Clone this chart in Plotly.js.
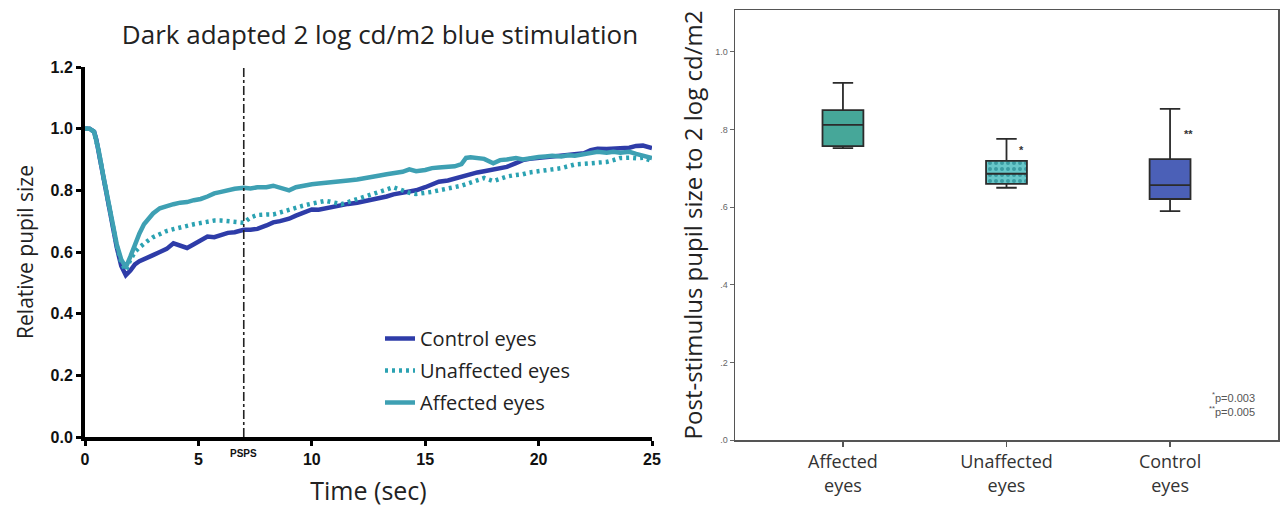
<!DOCTYPE html>
<html>
<head>
<meta charset="utf-8">
<script src="https://cdn.plot.ly/plotly-3.0.1.min.js"></script>
<style>html,body{margin:0;padding:0;background:#fff;}#chart{width:1283px;height:507px;}</style>
</head>
<body>
<div id="chart"></div>
<script>
// ---------- Left panel: pupil response time course ----------
const timeSec = [
  0, 0.2, 0.4, 0.5, 0.6, 0.8, 1.0, 1.2, 1.4, 1.6,
  1.8, 2.0, 2.2, 2.4, 2.6, 2.8, 3.0, 3.3, 3.6, 3.9,
  4.2, 4.5, 4.8, 5.1, 5.4, 5.7, 6.0, 6.3, 6.6, 7.0,
  7.3, 7.6, 8.0, 8.3, 8.6, 9.0, 9.3, 9.6, 10.0, 10.3,
  10.6, 11.0, 11.3, 11.6, 12.0, 12.3, 12.6, 13.0, 13.3, 13.6,
  14.0, 14.3, 14.6, 15.0, 15.3, 15.6, 16.0, 16.3, 16.6, 16.8,
  17.0, 17.3, 17.6, 18.0, 18.3, 18.6, 19.0, 19.3, 19.6, 20.0,
  20.3, 20.6, 21.0, 21.3, 21.6, 22.0, 22.3, 22.6, 23.0, 23.3,
  23.6, 24.0, 24.3, 24.6, 25.0
];
const controlEyes = [
  1.00, 1.00, 0.99, 0.965, 0.925, 0.845, 0.765, 0.685, 0.615, 0.555,
  0.525, 0.54, 0.56, 0.57, 0.578, 0.586, 0.59, 0.60, 0.61, 0.628,
  0.622, 0.613, 0.625, 0.638, 0.65, 0.648, 0.655, 0.662, 0.664, 0.672,
  0.672, 0.675, 0.686, 0.696, 0.70, 0.708, 0.718, 0.726, 0.738, 0.737,
  0.742, 0.748, 0.752, 0.756, 0.76, 0.764, 0.77, 0.775, 0.78, 0.787,
  0.792, 0.797, 0.80, 0.81, 0.82, 0.828, 0.832, 0.838, 0.846, 0.85,
  0.853, 0.858, 0.862, 0.868, 0.872, 0.876, 0.888, 0.898, 0.902, 0.905,
  0.906, 0.908, 0.912, 0.914, 0.917, 0.92, 0.93, 0.935, 0.934, 0.936,
  0.935, 0.938, 0.944, 0.945, 0.937
];
const unaffectedEyes = [
  1.00, 1.00, 0.99, 0.965, 0.928, 0.848, 0.768, 0.69, 0.62, 0.565,
  0.54, 0.575, 0.60, 0.615, 0.628, 0.638, 0.648, 0.66, 0.668, 0.674,
  0.68, 0.684, 0.69, 0.694, 0.698, 0.702, 0.702, 0.70, 0.70, 0.695,
  0.712, 0.72, 0.722, 0.722, 0.728, 0.738, 0.745, 0.75, 0.757, 0.762,
  0.766, 0.76, 0.755, 0.762, 0.772, 0.778, 0.785, 0.795, 0.802, 0.81,
  0.80, 0.792, 0.788, 0.79, 0.795, 0.80, 0.805, 0.81, 0.815, 0.82,
  0.825, 0.835, 0.84, 0.83, 0.838, 0.845, 0.85, 0.852, 0.858, 0.862,
  0.865, 0.866, 0.872, 0.878, 0.884, 0.886, 0.888, 0.89, 0.892, 0.898,
  0.905, 0.906, 0.904, 0.906, 0.895
];
const affectedEyes = [
  1.00, 1.00, 0.99, 0.965, 0.93, 0.85, 0.77, 0.69, 0.625, 0.575,
  0.55, 0.585, 0.625, 0.66, 0.69, 0.71, 0.725, 0.742, 0.75, 0.755,
  0.76, 0.762, 0.768, 0.772, 0.78, 0.79, 0.795, 0.80, 0.805, 0.808,
  0.806, 0.81, 0.81, 0.815, 0.808, 0.80, 0.81, 0.815, 0.82, 0.822,
  0.825, 0.826, 0.83, 0.832, 0.835, 0.84, 0.842, 0.848, 0.852, 0.855,
  0.86, 0.868, 0.862, 0.866, 0.872, 0.874, 0.876, 0.878, 0.885, 0.905,
  0.907, 0.905, 0.902, 0.888, 0.898, 0.90, 0.905, 0.90, 0.905, 0.908,
  0.91, 0.912, 0.91, 0.914, 0.912, 0.918, 0.922, 0.925, 0.922, 0.925,
  0.922, 0.925, 0.918, 0.912, 0.905
];
const seriesNames = ['Control eyes', 'Unaffected eyes', 'Affected eyes'];
const xTickVals = [0, 5, 10, 15, 20, 25];
const yTickVals = [0, 0.2, 0.4, 0.6, 0.8, 1.0, 1.2];
const pspsTime = 7;

// ---------- Right panel: post-stimulus pupil size box plot ----------
const boxCategories = ['Affected eyes', 'Unaffected eyes', 'Control eyes'];
const boxTickLabels = ['Affected<br>eyes', 'Unaffected<br>eyes', 'Control<br>eyes'];
const boxLowerFence = [0.752, 0.650, 0.590];
const boxQ1 = [0.757, 0.660, 0.621];
const boxMedian = [0.812, 0.686, 0.657];
const boxQ3 = [0.850, 0.719, 0.724];
const boxUpperFence = [0.920, 0.776, 0.853];
const sigMarks = ['', '*', '**'];
const sigMarkY = [null, 0.747, 0.789];
const boxTickVals = [0, 0.2, 0.4, 0.6, 0.8, 1.0];
const boxTickText = ['.0', '.2', '.4', '.6', '.8', '1.0'];

const W = 1283, H = 507;
const px = v => v / W;
const py = v => (H - v) / H;

const lineColors = ['#2e3ca8', '#2ba2b2', '#3ea0b3'];
const traces = [];
traces.push({
  type: 'scatter', mode: 'lines', x: timeSec, y: controlEyes, name: seriesNames[0],
  legendgroup: 'c', line: {color: lineColors[0], width: 4.5}, xaxis: 'x', yaxis: 'y'
});
traces.push({
  type: 'scatter', mode: 'lines', x: timeSec, y: unaffectedEyes, name: seriesNames[1],
  legendgroup: 'u', line: {color: lineColors[1], width: 4.5, dash: '3px,4px'}, xaxis: 'x', yaxis: 'y'
});
traces.push({
  type: 'scatter', mode: 'lines', x: timeSec, y: affectedEyes, name: seriesNames[2],
  legendgroup: 'a', line: {color: lineColors[2], width: 4.5}, xaxis: 'x', yaxis: 'y'
});

const boxFills = ['#46a799', 'rgba(0,0,0,0)', '#4b60b7'];
// patterned fill under the unaffected box
traces.push({
  type: 'bar', x: [boxCategories[1]], y: [boxQ3[1] - boxQ1[1]], base: [boxQ1[1]],
  width: 0.25, xaxis: 'x2', yaxis: 'y2', showlegend: false,
  marker: {color: '#68c7c9', line: {width: 0},
    pattern: {shape: '.', fgcolor: '#3a9ca2', bgcolor: '#68c7c9', size: 6, solidity: 0.35}}
});
for (let i = 0; i < boxCategories.length; i++) {
  traces.push({
    type: 'box', x: [boxCategories[i]], q1: [boxQ1[i]], median: [boxMedian[i]], q3: [boxQ3[i]],
    lowerfence: [boxLowerFence[i]], upperfence: [boxUpperFence[i]],
    width: 0.25, whiskerwidth: 0.5, fillcolor: boxFills[i],
    line: {color: '#2b2b2b', width: 1.8}, xaxis: 'x2', yaxis: 'y2', showlegend: false,
    boxpoints: false
  });
}

const annotations = [
  {xref: 'x', yref: 'y', x: pspsTime, y: 0, yshift: -16, text: 'PSPS', showarrow: false,
   font: {family: 'Liberation Sans, Arial', size: 10, weight: 'bold', color: '#111'}},
  {xref: 'paper', yref: 'paper', x: px(1257), y: py(404), xanchor: 'right', yanchor: 'middle',
   align: 'right', showarrow: false,
   text: '<sup>*</sup>p=0.003<br><sup>**</sup>p=0.005',
   font: {family: 'Liberation Sans Narrow, Liberation Sans, Arial', size: 11, color: '#555'}}
];
for (let i = 0; i < boxCategories.length; i++) {
  if (sigMarks[i]) {
    annotations.push({xref: 'x2', yref: 'y2', x: boxCategories[i], y: sigMarkY[i],
      xshift: 12 + 3 * sigMarks[i].length, text: sigMarks[i], showarrow: false,
      font: {family: 'Liberation Sans, Arial', size: 11, weight: 'bold', color: '#333'}});
  }
}

const layout = {
  width: W, height: H, margin: {l: 0, r: 0, t: 0, b: 0},
  paper_bgcolor: '#fff', plot_bgcolor: '#fff', hovermode: false,
  title: {text: 'Dark adapted 2 log cd/m2 blue stimulation', x: px(380), xanchor: 'center',
    y: py(35), yanchor: 'middle', font: {family: 'Open Sans', size: 26, color: '#222'}},
  showlegend: true,
  legend: {x: px(380), y: py(319), xanchor: 'left', yanchor: 'top', tracegroupgap: 3,
    bgcolor: 'rgba(0,0,0,0)', font: {family: 'Open Sans', size: 20, color: '#222'}},
  xaxis: {domain: [px(85), px(652)], range: [0, 25], tickvals: xTickVals,
    showline: true, linewidth: 4, linecolor: '#000', ticks: 'outside', ticklen: 5,
    tickwidth: 3, tickcolor: '#000', showgrid: false, zeroline: false, anchor: 'y',
    tickfont: {family: 'Liberation Sans, Arial', size: 16, weight: 'bold', color: '#111'},
    title: {text: 'Time (sec)', standoff: 20, font: {family: 'Open Sans', size: 25, color: '#222'}}},
  yaxis: {domain: [py(437), py(67)], range: [0, 1.2], tickvals: yTickVals, tickformat: '.1f',
    showline: true, linewidth: 4, linecolor: '#000', ticks: 'outside', ticklen: 5,
    tickwidth: 3, tickcolor: '#000', showgrid: false, zeroline: false, anchor: 'x',
    tickfont: {family: 'Liberation Sans, Arial', size: 16, weight: 'bold', color: '#111'},
    title: {text: 'Relative pupil size', standoff: 12, font: {family: 'Open Sans', size: 21, color: '#222'}}},
  xaxis2: {domain: [px(735), px(1278)], type: 'category', categoryorder: 'array',
    categoryarray: boxCategories, range: [-0.66, 2.66], tickvals: boxCategories, ticktext: boxTickLabels,
    showline: true, mirror: true, linewidth: 1.5, linecolor: '#555', ticks: 'outside', ticklen: 5,
    tickwidth: 1.5, tickcolor: '#555', showgrid: false, zeroline: false, anchor: 'y2',
    tickfont: {family: 'Open Sans', size: 18, color: '#333'}},
  yaxis2: {domain: [py(440), py(10)], range: [0, 1.108], tickvals: boxTickVals, ticktext: boxTickText,
    showline: true, mirror: true, linewidth: 1.5, linecolor: '#555', ticks: 'outside', ticklen: 4,
    tickwidth: 1, tickcolor: '#666', showgrid: false, zeroline: false, anchor: 'x2',
    tickfont: {family: 'Liberation Sans Narrow, Liberation Sans, Arial', size: 9, color: '#666'},
    title: {text: 'Post-stimulus pupil size to 2 log cd/m2', standoff: 6,
      font: {family: 'Open Sans', size: 24, color: '#222'}}},
  boxmode: 'overlay', barmode: 'overlay',
  shapes: [
    {type: 'line', xref: 'x', yref: 'y', x0: pspsTime, x1: pspsTime, y0: 0, y1: 1.2,
     line: {color: '#222', width: 1.6, dash: 'dashdot'}}
  ],
  annotations: annotations
};

Plotly.newPlot('chart', traces, layout, {displayModeBar: false, staticPlot: true});
</script>
</body>
</html>
